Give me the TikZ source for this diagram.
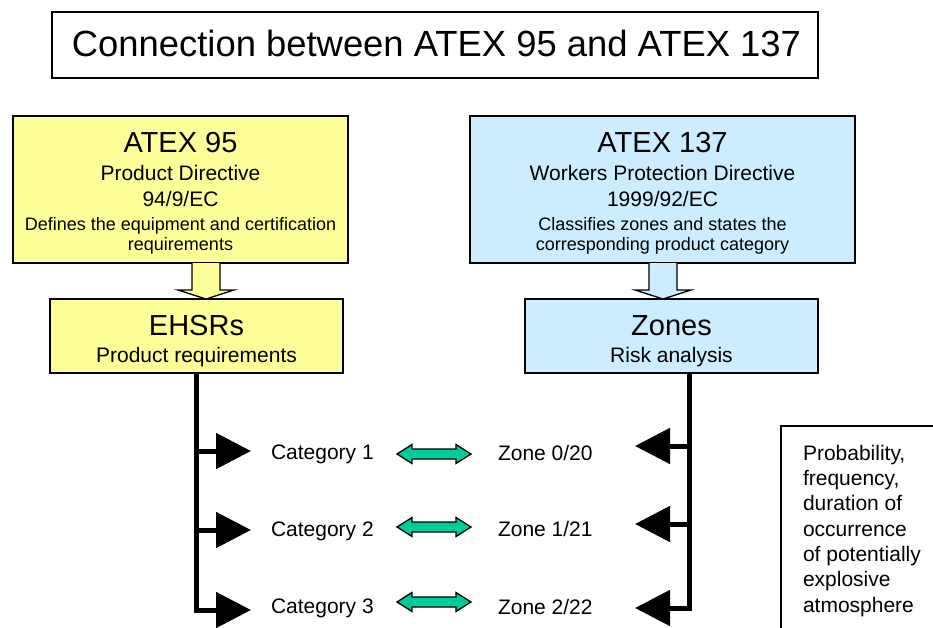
\documentclass[tikz,border=0pt]{standalone}
\usepackage{fontspec}
\setmainfont{Liberation Sans}
\usetikzlibrary{arrows.meta}
\definecolor{boxyellow}{HTML}{FFFF99}
\definecolor{boxblue}{HTML}{CCECFF}
\definecolor{linkgreen}{HTML}{00CC99}
\begin{document}
\begin{tikzpicture}[x=1pt,y=-1pt,
  frame/.style={draw=black, line width=1.3pt, inner sep=0pt, outer sep=0pt},
  txt/.style={inner sep=0pt, outer sep=0pt},
  fbig/.style={txt, font=\fontsize{29}{33}\selectfont},
  fmid/.style={txt, font=\fontsize{21}{25}\selectfont},
  fsmall/.style={txt, font=\fontsize{18}{21}\selectfont},
  blockarrow/.style={draw=black, line width=1.3pt, line join=miter},
  conn/.style={line width=5pt, line join=miter, -{Triangle[length=35pt,width=35pt]}},
  dbl/.pic={\draw[line width=1.3pt, fill=linkgreen, line join=miter]
     (-37,0) -- (-22,-9.5) -- (-22,-5) -- (22,-5) -- (22,-9.5) -- (37,0)
     -- (22,9.5) -- (22,5) -- (-22,5) -- (-22,9.5) -- cycle;}
]
\useasboundingbox (0,0) rectangle (933,628);
\clip (0,0) rectangle (933,628);

% title
\node[frame, minimum width=766pt, minimum height=66pt] (title) at (435,45) {};
\node[txt, anchor=base, font=\fontsize{36.4}{42}\selectfont] (titletext) at (436.5,57)
  {Connection between ATEX 95 and ATEX 137};

% left column
\node[frame, fill=boxyellow, minimum width=335pt, minimum height=147pt] (a95) at (180.5,189.5) {};
\node[fbig, anchor=base] (a95t1) at (180.5,153) {ATEX 95};
\node[fmid, anchor=base] (a95t2) at (180.5,181) {Product Directive};
\node[fmid, anchor=base] (a95t3) at (180.5,207) {94/9/EC};
\node[fsmall, anchor=base] (a95t4) at (180.5,230) {Defines the equipment and certification};
\node[fsmall, anchor=base] (a95t5) at (180.5,251) {requirements};

\node[frame, fill=boxyellow, minimum width=293pt, minimum height=74pt] (ehsr) at (196.5,336) {};
\node[fbig, anchor=base] (ehsrt1) at (196.5,335) {EHSRs};
\node[fmid, anchor=base] (ehsrt2) at (196.5,362) {Product requirements};

% right column
\node[frame, fill=boxblue, minimum width=385pt, minimum height=147pt] (a137) at (662.5,189.5) {};
\node[fbig, anchor=base] (a137t1) at (662.5,153) {ATEX 137};
\node[fmid, anchor=base] (a137t2) at (662.5,181) {Workers Protection Directive};
\node[fmid, anchor=base] (a137t3) at (662.5,207) {1999/92/EC};
\node[fsmall, anchor=base] (a137t4) at (662.5,230) {Classifies zones and states the};
\node[fsmall, anchor=base] (a137t5) at (662.5,251) {corresponding product category};

\node[frame, fill=boxblue, minimum width=293pt, minimum height=74pt] (zones) at (671.5,336) {};
\node[fbig, anchor=base] (zonest1) at (671.5,335) {Zones};
\node[fmid, anchor=base] (zonest2) at (671.5,362) {Risk analysis};

% block arrows
\draw[blockarrow, fill=boxyellow] (192,263) -- (192,290) -- (178,290) -- (206,299)
  -- (234,290) -- (220,290) -- (220,263);
\draw[blockarrow, fill=boxblue] (649,263) -- (649,290) -- (635,290) -- (663,299)
  -- (691,290) -- (677,290) -- (677,263);

% category / zone labels
\node[fmid, anchor=base west] (cat1) at (271,459) {Category 1};
\node[fmid, anchor=base west] (cat2) at (271,536) {Category 2};
\node[fmid, anchor=base west] (cat3) at (271,613) {Category 3};
\node[fmid, anchor=base west] (zone1) at (498,460) {Zone 0/20};
\node[fmid, anchor=base west] (zone2) at (498,536) {Zone 1/21};
\node[fmid, anchor=base west] (zone3) at (498,614) {Zone 2/22};

% left connectors
\coordinate (lt1) at (251,451);
\coordinate (lt2) at (251,530);
\coordinate (lt3) at (251,610);
\draw[conn] ([xshift=-0.5pt]ehsr.south) |- (lt3);
\draw[conn] (196,451) -- (lt1);
\draw[conn] (196,530) -- (lt2);

% right connectors
\coordinate (rt1) at (635,446);
\coordinate (rt2) at (635,524);
\coordinate (rt3) at (635,608);
\draw[conn] ([xshift=17.5pt]zones.south) |- (rt3);
\draw[conn] (689,446) -- (rt1);
\draw[conn] (689,524) -- (rt2);

% green double arrows
\pic at (434,454) {dbl};
\pic at (434,527) {dbl};
\pic at (434,602) {dbl};

% note box
\node[frame, anchor=north west, minimum width=200pt, minimum height=250pt] (probbox) at (781,426) {};
\node[txt, anchor=north west, align=left, font=\fontsize{21}{25.3}\selectfont] (probtext) at (803,445)
  {Probability,\\frequency,\\duration of\\occurrence\\of potentially\\explosive\\atmosphere};
\end{tikzpicture}
\end{document}
